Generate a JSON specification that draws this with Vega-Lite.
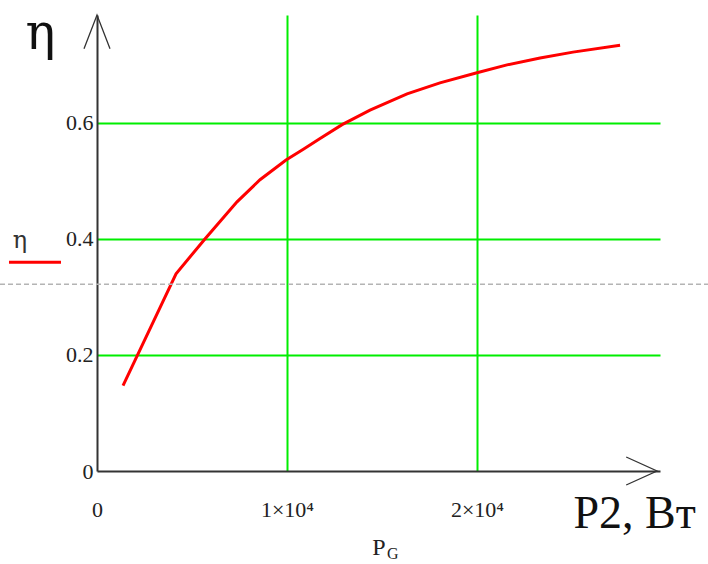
{
  "$schema": "https://vega.github.io/schema/vega-lite/v6.json",
  "width": 563,
  "height": 456,
  "autosize": {"type": "none"},
  "padding": {"left": 97, "top": 15, "right": 48, "bottom": 93},
  "background": "white",
  "config": {
    "view": {"stroke": null},
    "font": "Liberation Serif"
  },
  "datasets": {
    "curve": [
      {"P2": 1370, "eta": 0.147},
      {"P2": 4160, "eta": 0.340},
      {"P2": 5680, "eta": 0.400},
      {"P2": 7370, "eta": 0.464},
      {"P2": 8580, "eta": 0.502},
      {"P2": 9950, "eta": 0.536},
      {"P2": 10840, "eta": 0.554},
      {"P2": 11740, "eta": 0.573},
      {"P2": 12900, "eta": 0.597},
      {"P2": 14370, "eta": 0.622},
      {"P2": 16320, "eta": 0.650},
      {"P2": 18050, "eta": 0.669},
      {"P2": 19950, "eta": 0.686},
      {"P2": 21580, "eta": 0.700},
      {"P2": 23320, "eta": 0.712},
      {"P2": 25050, "eta": 0.722},
      {"P2": 27530, "eta": 0.734}
    ],
    "one": [{"k": 1}]
  },
  "layer": [
    {
      "data": {"name": "curve"},
      "mark": {"type": "line", "color": "#ff0000", "strokeWidth": 3, "clip": false},
      "encoding": {
        "x": {
          "field": "P2",
          "type": "quantitative",
          "scale": {"domain": [0, 29632], "nice": false, "zero": false},
          "axis": {
            "values": [0, 10000, 20000],
            "labelExpr": "datum.value == 0 ? '0' : format(datum.value / 10000, 'd') + '×10⁴'",
            "labelFlush": false,
            "labelFontSize": 22,
            "labelColor": "#222222",
            "labelPadding": 28,
            "ticks": false,
            "grid": true,
            "gridColor": {"condition": {"test": "datum.value === 0", "value": "transparent"}, "value": "#00ee00"},
            "gridWidth": 2,
            "domainColor": "#333333",
            "domainWidth": 2,
            "title": "P2, Вт",
            "titleFontSize": 46,
            "titleFontWeight": "normal",
            "titleColor": "#111111",
            "titleAlign": "left",
            "titleBaseline": "alphabetic",
            "titleX": 476,
            "titleY": 56
          }
        },
        "y": {
          "field": "eta",
          "type": "quantitative",
          "scale": {"domain": [0, 0.786], "nice": false, "zero": false},
          "axis": {
            "values": [0, 0.2, 0.4, 0.6],
            "labelExpr": "datum.value == 0 ? '0' : format(datum.value, '.1f')",
            "labelFlush": false,
            "labelFontSize": 22,
            "labelColor": "#222222",
            "labelPadding": 4,
            "ticks": false,
            "grid": true,
            "gridColor": {"condition": {"test": "datum.value === 0", "value": "transparent"}, "value": "#00ee00"},
            "gridWidth": 2,
            "domainColor": "#333333",
            "domainWidth": 2,
            "title": "η",
            "titleAngle": 0,
            "titleFont": "DejaVu Serif",
            "titleFontSize": 50,
            "titleFontWeight": "normal",
            "titleColor": "#111111",
            "titleAlign": "center",
            "titleBaseline": "alphabetic",
            "titleX": -57,
            "titleY": 33
          }
        }
      }
    },
    {
      "data": {"name": "one"},
      "mark": {"type": "rule", "color": "#b4b4b4", "strokeWidth": 1.5, "strokeDash": [5, 3], "clip": false},
      "encoding": {
        "x": {"datum": -5105},
        "x2": {"datum": 32158},
        "y": {"datum": 0.322}
      }
    },
    {
      "data": {"name": "one"},
      "mark": {"type": "point", "shape": "M -1 2.6 L 0 0 L 1 2.6", "size": 676, "filled": false, "stroke": "#333333", "strokeWidth": 1.3, "opacity": 1, "clip": false},
      "encoding": {
        "x": {"datum": 0},
        "y": {"datum": 0.786}
      }
    },
    {
      "data": {"name": "one"},
      "mark": {"type": "point", "shape": "M -2.2 -1 L 0 0 L -2.2 1", "size": 784, "filled": false, "stroke": "#333333", "strokeWidth": 1.3, "opacity": 1, "clip": false},
      "encoding": {
        "x": {"datum": 29474},
        "y": {"datum": 0}
      }
    },
    {
      "data": {"name": "one"},
      "mark": {"type": "rule", "color": "#ff0000", "strokeWidth": 3, "clip": false},
      "encoding": {
        "x": {"datum": -4632},
        "x2": {"datum": -1895},
        "y": {"datum": 0.360}
      }
    },
    {
      "data": {"name": "one"},
      "mark": {"type": "text", "text": "η", "fontSize": 24, "font": "DejaVu Serif", "color": "#333333", "align": "center", "baseline": "alphabetic", "clip": false},
      "encoding": {
        "x": {"datum": -4053},
        "y": {"datum": 0.3845}
      }
    },
    {
      "data": {"name": "one"},
      "mark": {"type": "text", "text": "P", "fontSize": 24, "font": "Liberation Serif", "color": "#222222", "align": "center", "baseline": "alphabetic", "clip": false},
      "encoding": {
        "x": {"datum": 14842},
        "y": {"datum": -0.1448}
      }
    },
    {
      "data": {"name": "one"},
      "mark": {"type": "text", "text": "G", "fontSize": 16, "font": "Liberation Serif", "color": "#222222", "align": "left", "baseline": "alphabetic", "clip": false},
      "encoding": {
        "x": {"datum": 15263},
        "y": {"datum": -0.1517}
      }
    }
  ]
}
